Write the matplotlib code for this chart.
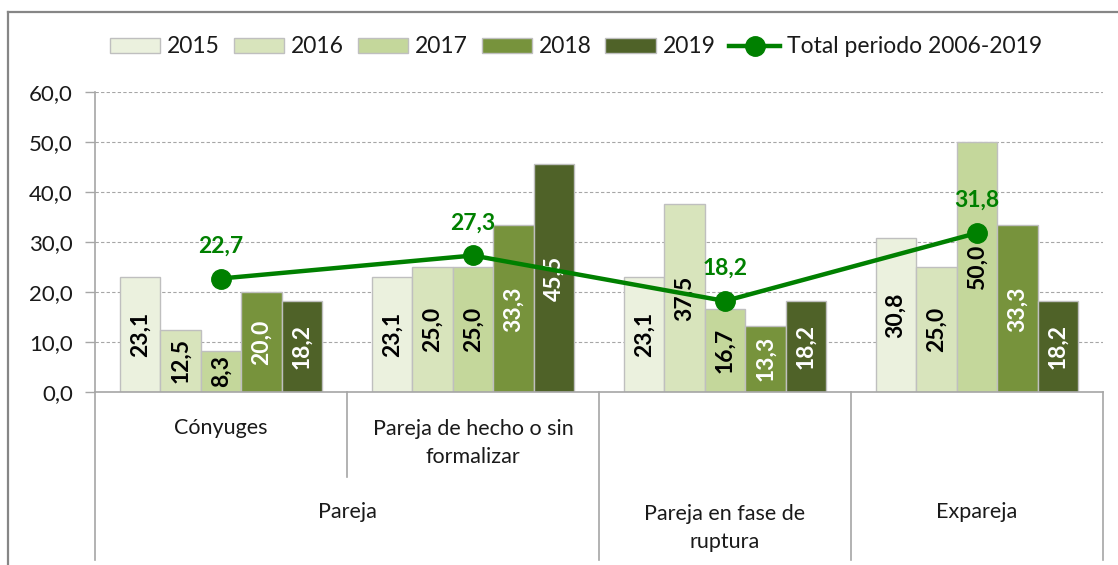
import matplotlib
matplotlib.use("Agg")
import matplotlib.pyplot as plt
import numpy as np
from matplotlib.transforms import blended_transform_factory
from matplotlib.lines import Line2D
from matplotlib.ticker import FuncFormatter

plt.rcParams['font.family'] = ['Lato', 'DejaVu Sans']

# ---- data ----
years = ['2015', '2016', '2017', '2018', '2019']
sub_categories = ['Cónyuges', 'Pareja de hecho o sin\nformalizar',
                  'Pareja en fase de\nruptura', 'Expareja']
top_categories = ['Pareja', 'Pareja en fase de\nruptura', 'Expareja']
values_2015 = [23.1, 23.1, 23.1, 30.8]
values_2016 = [12.5, 25.0, 37.5, 25.0]
values_2017 = [8.3, 25.0, 16.7, 50.0]
values_2018 = [20.0, 33.3, 13.3, 33.3]
values_2019 = [18.2, 45.5, 18.2, 18.2]
total_label = 'Total periodo 2006-2019'
total_values = [22.7, 27.3, 18.2, 31.8]
y_ticks = [0, 10, 20, 30, 40, 50, 60]

series = [values_2015, values_2016, values_2017, values_2018, values_2019]
colors = ['#EBF1DE', '#D8E4BC', '#C4D79B', '#77933C', '#4F6228']
label_colors = ['black', 'black', 'black', 'white', 'white']
line_color = '#008000'

W, H = 1118, 565
fig = plt.figure(figsize=(W / 100, H / 100), dpi=100)
ax = fig.add_axes([95 / W, 1 - 392 / H, (1103 - 95) / W, 300 / H])

n = len(sub_categories)
x = np.arange(n)
bw = 0.161
for i, (vals, c, lc) in enumerate(zip(series, colors, label_colors)):
    xs = x + (i - 2) * bw
    ax.bar(xs, vals, width=bw, color=c, edgecolor='#BFBFBF',
           linewidth=1.0, label=years[i], zorder=2)
    for xi, v in zip(xs, vals):
        ax.text(xi, v / 2, f"{v:.1f}".replace('.', ','), rotation=90,
                ha='center', va='center', color=lc, fontsize=16.5,
                fontweight='bold', zorder=4)

ax.plot(x, total_values, color=line_color, linewidth=3.2, marker='o',
        markersize=14, label=total_label, zorder=5)
for xi, v in zip(x, total_values):
    ax.annotate(f"{v:.1f}".replace('.', ','), (xi, v), xytext=(0, 16),
                textcoords='offset points', ha='center', va='bottom',
                color=line_color, fontsize=16.5, fontweight='bold', zorder=6)

ax.set_xlim(-0.5, n - 0.5)
ax.set_ylim(0, 60)
ax.set_yticks(y_ticks)
ax.yaxis.set_major_formatter(FuncFormatter(lambda v, p: f"{v:.1f}".replace('.', ',')))
ax.tick_params(axis='y', length=7, width=1, color='#A6A6A6', pad=9,
               labelsize=16, labelcolor='#1a1a1a')
ax.set_xticks([])
ax.grid(axis='y', color='#A6A6A6', linestyle=(0, (3, 2)), linewidth=0.8, zorder=0)
for s in ['top', 'right']:
    ax.spines[s].set_visible(False)
ax.spines['left'].set_color('#A6A6A6')
ax.spines['left'].set_linewidth(1.2)
ax.spines['bottom'].set_color('#A6A6A6')
ax.spines['bottom'].set_linewidth(1.2)
ax.set_axisbelow(True)

# hierarchical category axis
tr = blended_transform_factory(ax.transData, fig.transFigure)
def fy(px):
    return 1 - px / H

sep_lines = [(-0.5, 560), (0.5, 477), (1.5, 560), (2.5, 560), (3.5, 560)]
for xs, ybot in sep_lines:
    fig.add_artist(Line2D([xs, xs], [fy(392), fy(ybot)], transform=tr,
                          color='#A6A6A6', linewidth=1.2))

label_kw = dict(transform=tr, ha='center', va='center', fontsize=15.5,
                color='#1a1a1a', linespacing=1.5)
fig.text(0, fy(428), sub_categories[0], **label_kw)
fig.text(1, fy(443), sub_categories[1], **label_kw)
fig.text(0.5, fy(512), top_categories[0], **label_kw)
fig.text(2, fy(528), top_categories[1], **label_kw)
fig.text(3, fy(512), top_categories[2], **label_kw)

# outer border (top and left visible)
fig.add_artist(Line2D([8 / W, 1], [fy(12), fy(12)], transform=fig.transFigure,
                      color='#868686', linewidth=1.6))
fig.add_artist(Line2D([8 / W, 8 / W], [fy(12), 0], transform=fig.transFigure,
                      color='#868686', linewidth=1.6))

handles, labels = ax.get_legend_handles_labels()
order = [1, 2, 3, 4, 5, 0]
fig.legend([handles[i] for i in order], [labels[i] for i in order],
           loc='center', bbox_to_anchor=(0.515, fy(47)), ncol=6, frameon=False,
           fontsize=16.5, handlelength=2.2, handleheight=0.6, handletextpad=0.3,
           columnspacing=0.6, labelcolor='#1a1a1a')

fig.savefig('out.png', dpi=100)
